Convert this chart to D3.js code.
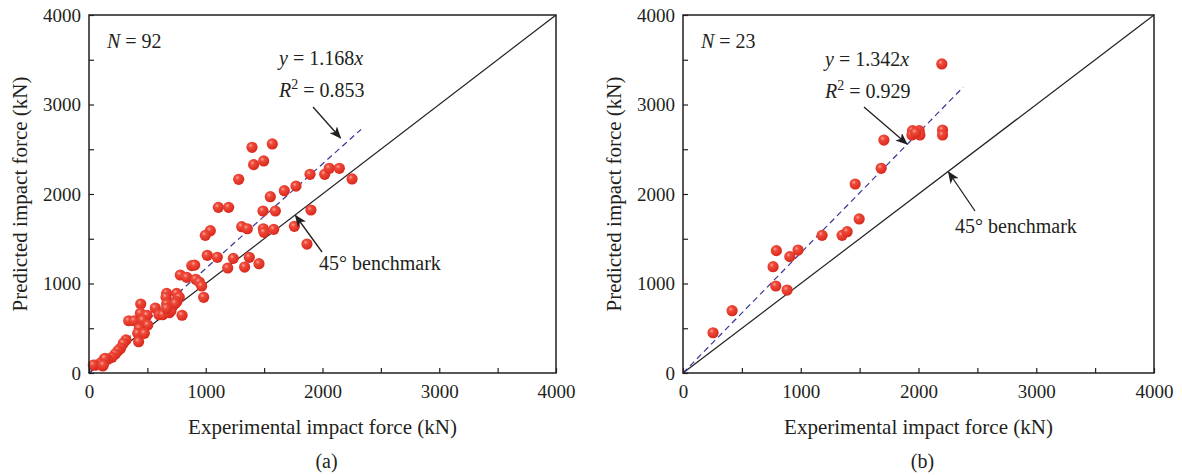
<!DOCTYPE html>
<html>
<head>
<meta charset="utf-8">
<script src="https://cdn.jsdelivr.net/npm/d3@7"></script>
<style>
  body { margin: 0; background: #fff; }
  text { font-family: "Liberation Serif", "DejaVu Serif", serif; fill: #231f20; }
</style>
</head>
<body>
<script>
// panel (a): experimental vs predicted impact force (kN), N = 92
var expA = [1396,1570,1410,1496,1282,1893,2019,2058,2144,2253,1773,1673,1553,1108,1196,1490,1596,1901,
  1308,1356,1493,1499,1582,1759,1039,996,1867,1013,1099,1236,1373,1188,1333,1456,880,905,782,837,914,945,
  965,982,665,660,751,773,751,665,722,443,340,388,440,497,568,600,631,688,702,797,460,503,431,417,425,474,
  317,294,271,248,225,197,160,131,103,60,117,37,137,665,739,123];
var predA = [2522,2559,2328,2369,2164,2220,2220,2287,2287,2168,2089,2037,1970,1851,1851,1810,1810,1821,
  1635,1612,1612,1572,1605,1639,1590,1538,1441,1315,1293,1281,1293,1173,1184,1221,1200,1205,1095,1069,1047,1017,
  972,846,890,846,890,846,797,771,756,771,584,584,667,645,726,651,651,674,696,645,592,536,499,443,350,443,
  369,332,276,249,212,175,153,153,115,89,78,89,164,723,779,89];

// panel (b): N = 23
var expB = [1462,1496,1351,1394,1181,793,907,977,765,788,884,417,255,1706,1683,1949,1944,2006,2012,2198,2204,2204,1975];
var predB = [2112,1721,1538,1579,1538,1367,1300,1374,1188,972,927,696,450,2603,2287,2707,2659,2707,2659,3453,2715,2659,2685];

var tickVals = [0,500,1000,1500,2000,2500,3000,3500,4000];
var slopes = [1.168, 1.342];
var fitEnd = [2330, 2380];

var width = 1182, height = 475;
var svg = d3.select("body").append("svg")
  .attr("width", width)
  .attr("height", height);

var defs = svg.append("defs");
var grad = defs.append("radialGradient")
  .attr("id", "ball")
  .attr("cx", "38%").attr("cy", "35%").attr("r", "65%");
grad.append("stop").attr("offset", "0%").attr("stop-color", "#f7a59c");
grad.append("stop").attr("offset", "30%").attr("stop-color", "#ef4a3a");
grad.append("stop").attr("offset", "100%").attr("stop-color", "#d8281c");
defs.append("marker")
  .attr("id", "arrow")
  .attr("viewBox", "0 0 12 10")
  .attr("refX", 11).attr("refY", 5)
  .attr("markerWidth", 12).attr("markerHeight", 10)
  .attr("markerUnits", "userSpaceOnUse")
  .attr("orient", "auto")
  .append("path")
  .attr("d", "M0,0 L12,5 L0,10 L3,5 Z")
  .attr("fill", "#231f20");

var panels = [
  {left: 89, right: 556, xs: expA, ys: predA, n: "92", r2: "0.853", label: "(a)",
   eq: [279, 65], eqArrow: [[313,107],[340.5,138]], bench: [319, 270], benchArrow: [[322,252],[295.5,215.5]], ylab: 20},
  {left: 683, right: 1154, xs: expB, ys: predB, n: "23", r2: "0.929", label: "(b)",
   eq: [825, 66], eqArrow: [[864,107],[907,144]], bench: [955, 233], benchArrow: [[975,211],[948.5,172]], ylab: 614}
];
var plotTop = 15, plotBottom = 373;

panels.forEach(function(p, i) {
  var x = d3.scaleLinear().domain([0, 4000]).range([p.left, p.right]);
  var y = d3.scaleLinear().domain([0, 4000]).range([plotBottom, plotTop]);
  var g = svg.append("g");

  // 45 degree benchmark
  g.append("line")
    .attr("x1", x(0)).attr("y1", y(0))
    .attr("x2", x(4000)).attr("y2", y(4000))
    .attr("stroke", "#231f20").attr("stroke-width", 1.2);

  // fitted line
  g.append("line")
    .attr("x1", x(0)).attr("y1", y(0))
    .attr("x2", x(fitEnd[i])).attr("y2", y(fitEnd[i] * slopes[i]))
    .attr("stroke", "#3b3597").attr("stroke-width", 1.2)
    .attr("stroke-dasharray", "6,4");

  // points
  g.selectAll("circle.pt")
    .data(p.xs.map(function(v, k) { return [v, p.ys[k]]; }))
    .enter().append("circle")
    .attr("class", "pt")
    .attr("cx", function(d) { return x(d[0]); })
    .attr("cy", function(d) { return y(d[1]); })
    .attr("r", 5.6)
    .attr("fill", "url(#ball)");

  // axes
  var fmt = function(d) { return d % 1000 == 0 ? d : ""; };
  var xa = g.append("g")
    .attr("transform", "translate(0," + plotBottom + ")")
    .call(d3.axisBottom(x).tickValues(tickVals).tickFormat(fmt).tickSizeInner(-5).tickSizeOuter(0).tickPadding(12));
  var ya = g.append("g")
    .attr("transform", "translate(" + p.left + ",0)")
    .call(d3.axisLeft(y).tickValues(tickVals).tickFormat(fmt).tickSizeInner(-5).tickSizeOuter(0).tickPadding(8));
  [xa, ya].forEach(function(a) {
    a.select(".domain").remove();
    a.selectAll(".tick line").attr("stroke", "#231f20").attr("stroke-width", 1.2);
    a.selectAll(".tick text").style("font-size", "19px").attr("fill", "#231f20")
      .style("font-family", "'Liberation Serif', serif");
  });

  // frame
  g.append("rect")
    .attr("x", p.left).attr("y", plotTop)
    .attr("width", p.right - p.left).attr("height", plotBottom - plotTop)
    .attr("fill", "none").attr("stroke", "#231f20").attr("stroke-width", 1.5);

  // axis titles
  g.append("text")
    .attr("x", (p.left + p.right) / 2).attr("y", 434)
    .attr("text-anchor", "middle").style("font-size", "21px")
    .text("Experimental impact force (kN)");
  g.append("text")
    .attr("transform", "translate(" + p.ylab + "," + (plotTop + plotBottom) / 2 + ") rotate(-90)")
    .attr("dy", "0.35em")
    .attr("text-anchor", "middle").style("font-size", "21px")
    .text("Predicted impact force (kN)");
  g.append("text")
    .attr("x", (p.left + p.right) / 2 + 4).attr("y", 468)
    .attr("text-anchor", "middle").style("font-size", "20px")
    .text(p.label);

  // annotations
  var nt = g.append("text").attr("x", p.left + 18).attr("y", 48).style("font-size", "20px");
  nt.append("tspan").style("font-style", "italic").text("N");
  nt.append("tspan").text(" = " + p.n);

  var e1 = g.append("text").attr("x", p.eq[0]).attr("y", p.eq[1]).style("font-size", "20px");
  e1.append("tspan").style("font-style", "italic").text("y");
  e1.append("tspan").text(" = " + slopes[i].toFixed(3));
  e1.append("tspan").style("font-style", "italic").text("x");

  var e2 = g.append("text").attr("x", p.eq[0]).attr("y", p.eq[1] + 32).style("font-size", "20px");
  e2.append("tspan").style("font-style", "italic").text("R");
  e2.append("tspan").attr("dy", -8).style("font-size", "14px").text("2");
  e2.append("tspan").attr("dy", 8).text(" = " + p.r2);

  g.append("text").attr("x", p.bench[0]).attr("y", p.bench[1]).style("font-size", "20px")
    .text("45\u00b0 benchmark");

  [p.eqArrow, p.benchArrow].forEach(function(a) {
    g.append("line")
      .attr("x1", a[0][0]).attr("y1", a[0][1])
      .attr("x2", a[1][0]).attr("y2", a[1][1])
      .attr("stroke", "#231f20").attr("stroke-width", 1.3)
      .attr("marker-end", "url(#arrow)");
  });
});
</script>
</body>
</html>
